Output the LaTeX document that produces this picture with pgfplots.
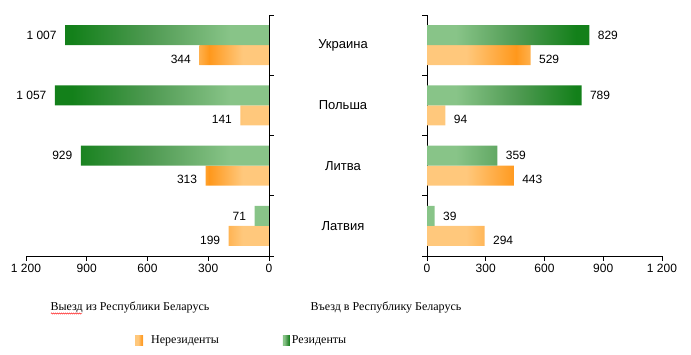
\documentclass[border=0pt]{standalone}
\usepackage{fontspec}
\setmainfont{Liberation Serif}
\setsansfont{Liberation Sans}
\usepackage{pgfplots}
\pgfplotsset{compat=1.18}
\usetikzlibrary{decorations.pathmorphing}
\definecolor{gdark}{HTML}{13801A}
\definecolor{gmid}{HTML}{4F9A52}
\definecolor{glight}{HTML}{88C488}
\definecolor{odark}{HTML}{FF981C}
\definecolor{omid}{HTML}{FFB04C}
\definecolor{olight}{HTML}{FFC87C}
\pgfdeclarehorizontalshading{gL}{100bp}{color(0bp)=(gdark); color(25bp)=(gdark); color(29bp)=(gdark); color(47bp)=(gmid); color(66bp)=(glight); color(100bp)=(glight)}
\pgfdeclarehorizontalshading{gR}{100bp}{color(0bp)=(glight); color(34bp)=(glight); color(53bp)=(gmid); color(71bp)=(gdark); color(75bp)=(gdark); color(100bp)=(gdark)}
\pgfdeclarehorizontalshading{oL}{100bp}{color(0bp)=(omid); color(25bp)=(omid); color(32bp)=(odark); color(56bp)=(olight); color(100bp)=(olight)}
\pgfdeclarehorizontalshading{oR}{100bp}{color(0bp)=(olight); color(44bp)=(olight); color(68bp)=(odark); color(75bp)=(omid); color(100bp)=(omid)}
\begin{document}
\begin{tikzpicture}
\path[use as bounding box] (0pt,0pt) rectangle (691pt,354pt);
\pgfplotsset{
  common/.style={
    scale only axis, height=241pt,
    xmin=0, xmax=1200, ymin=-0.5, ymax=3.5,
    enlargelimits=false,
    xbar, bar width=20pt,
    xtick={0,300,600,900,1200},
    tick align=outside,
    major tick length=5pt,
    axis line style={line width=0.8pt, black},
    tick style={line width=0.8pt, black},
    ticklabel style={font=\sffamily\fontsize{12}{14}\selectfont, text=black},
    /pgf/number format/assume math mode=true,
    /pgf/number format/1000 sep={\ },
    nodes near coords,
    every node near coord/.append style={font=\sffamily\fontsize{12}{14}\selectfont, text=black},
  },
  gbar/.style={draw=none, bar shift=10pt},
  obar/.style={draw=none, bar shift=-10pt, every node near coord/.append style={yshift=-4pt}},
}
% Left panel: departures
\begin{axis}[common,
  at={(26pt,98pt)}, anchor=south west, width=243pt,
  x dir=reverse,
  axis x line*=bottom, axis y line*=right,
  ytick={-0.5,0.5,1.5,2.5,3.5}, yticklabels={},
  every node near coord/.append style={anchor=east, xshift=-5pt},
]
\addplot[obar, shading=oL] coordinates {(344,3) (141,2) (313,1) (199,0)};
\addplot[gbar, shading=gL] coordinates {(1007,3) (1057,2) (929,1) (71,0)};
\end{axis}
% Right panel: arrivals
\begin{axis}[common,
  at={(427pt,98pt)}, anchor=south west, width=235pt,
  axis x line*=bottom, axis y line*=left,
  ytick={-0.5,0.5,1.5,2.5,3.5}, yticklabels={},
  extra y ticks={0,1,2,3},
  extra y tick labels={Латвия,Литва,Польша,Украина},
  extra y tick style={major tick length=0pt, yticklabel style={anchor=center, xshift=-84pt, font=\sffamily\fontsize{13}{15}\selectfont}},
  every node near coord/.append style={anchor=west, xshift=5pt},
  legend style={at={(axis description cs:-1.2426,-0.349)}, anchor=west, draw=none, fill=none,
    inner sep=0pt, font=\rmfamily\fontsize{12}{14}\selectfont,
    legend columns=2, /tikz/every even column/.append style={column sep=62pt}},
]
\addplot[obar, shading=oR,
  legend image code/.code={\fill[shading=oR] (0pt,-5pt) rectangle (8pt,5pt); \path (14pt,0pt);}]
  coordinates {(529,3) (94,2) (443,1) (294,0)};
\addlegendentry{Нерезиденты}
\addplot[gbar, shading=gR,
  legend image code/.code={\fill[shading=gR] (0pt,-5pt) rectangle (7pt,5pt); \path (4pt,0pt);}]
  coordinates {(829,3) (789,2) (359,1) (39,0)};
\addlegendentry{Резиденты}
\end{axis}
\node[font=\rmfamily\fontsize{12}{14}\selectfont] at (130pt,47pt) {Выезд из Республики Беларусь};
\node[font=\rmfamily\fontsize{12}{14}\selectfont] at (386pt,47pt) {Въезд в Республику Беларусь};
\draw[red, line width=0.4pt, decorate, decoration={snake, amplitude=0.6pt, segment length=2pt}] (51pt,40.5pt) -- (82pt,40.5pt);
\end{tikzpicture}
\end{document}
